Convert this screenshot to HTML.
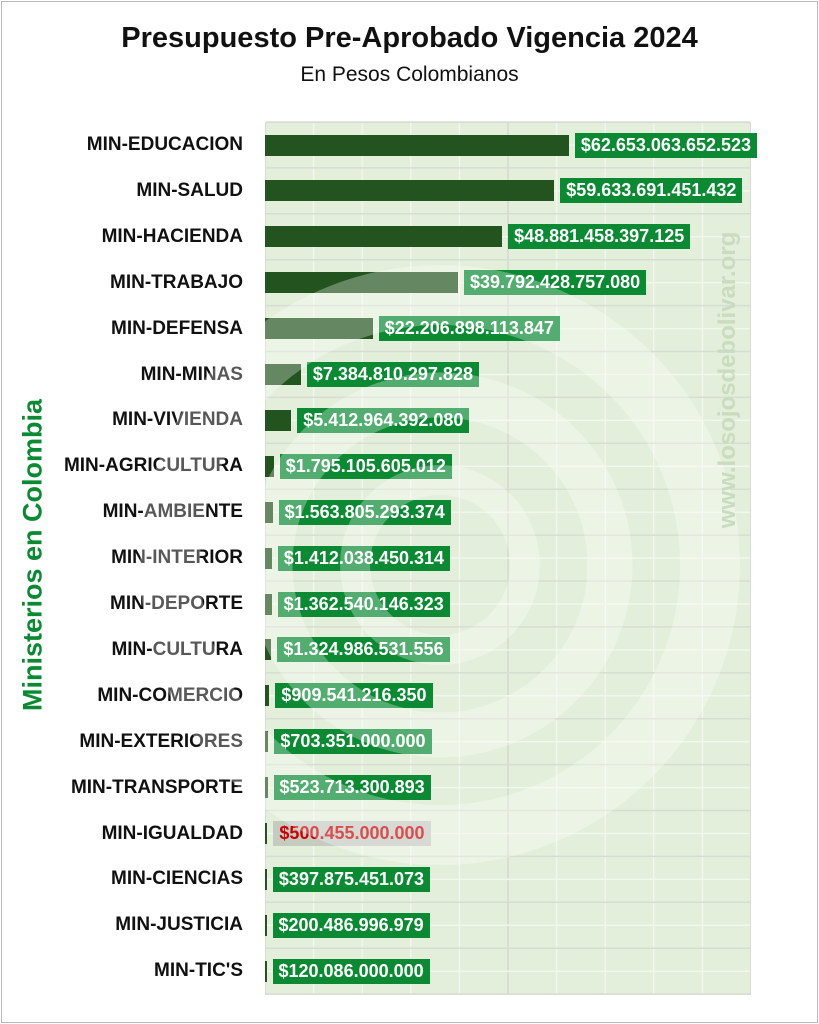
<!DOCTYPE html>
<html><head><meta charset="utf-8"><style>
*{margin:0;padding:0;box-sizing:border-box}
body{width:819px;height:1024px;background:#fff;position:relative;overflow:hidden;font-family:"Liberation Sans",sans-serif}
.frame{position:absolute;left:1px;top:1px;width:817px;height:1022px;border:1px solid #bbb}
h1{position:absolute;top:22px;left:0;width:819px;text-align:center;font-size:29px;font-weight:bold;color:#111}
.sub{position:absolute;top:63px;left:0;width:819px;text-align:center;font-size:21px;color:#111}
.panel{position:absolute;left:265px;top:122px;width:486px;height:873px;background:#e3efda;border:1px solid #d6dcd2}
.lab{position:absolute;right:576px;font-size:19px;font-weight:bold;color:#111;white-space:nowrap;height:24px;line-height:24px}
.bar{position:absolute;left:265px;height:21px;background:#23531f}
.val{position:absolute;height:25px;line-height:25px;padding:0 6px;background:#0b8a33;color:#fff;font-weight:bold;font-size:18px;font-family:"Liberation Sans Narrow","Liberation Sans",sans-serif;white-space:nowrap}
.yt{position:absolute;left:33px;top:555px;transform:translate(-50%,-50%) rotate(-90deg);font-size:27px;font-weight:bold;color:#0b8a33;white-space:nowrap}
</style></head><body>
<div class="frame"></div>
<h1>Presupuesto Pre-Aprobado Vigencia 2024</h1>
<div class="sub">En Pesos Colombianos</div>
<div class="panel"></div>
<svg style="position:absolute;left:0;top:0" width="819" height="1024">
<g id="grid"></g>
</svg>
<div class="yt">Ministerios en Colombia</div>
<div id="c"></div>
<svg style="position:absolute;left:0;top:0;pointer-events:none" width="819" height="1024">
<g fill="none" stroke="#fff" stroke-opacity="0.3">
<circle cx="440" cy="565" r="270" stroke-width="60"/>
<circle cx="440" cy="565" r="170" stroke-width="45"/>
<circle cx="440" cy="565" r="85" stroke-width="30"/>
</g>
<text x="735" y="380" transform="rotate(-90 735 380)" text-anchor="middle" font-family="Liberation Sans" font-weight="bold" font-size="24" fill="#c9dcc0">www.losojosdebolivar.org</text>
</svg>
<script>
var names=["MIN-EDUCACION","MIN-SALUD","MIN-HACIENDA","MIN-TRABAJO","MIN-DEFENSA","MIN-MINAS","MIN-VIVIENDA","MIN-AGRICULTURA","MIN-AMBIENTE","MIN-INTERIOR","MIN-DEPORTE","MIN-CULTURA","MIN-COMERCIO","MIN-EXTERIORES","MIN-TRANSPORTE","MIN-IGUALDAD","MIN-CIENCIAS","MIN-JUSTICIA","MIN-TIC'S"];
var vals=["62.653.063.652.523","59.633.691.451.432","48.881.458.397.125","39.792.428.757.080","22.206.898.113.847","7.384.810.297.828","5.412.964.392.080","1.795.105.605.012","1.563.805.293.374","1.412.038.450.314","1.362.540.146.323","1.324.986.531.556","909.541.216.350","703.351.000.000","523.713.300.893","500.455.000.000","397.875.451.073","200.486.996.979","120.086.000.000"];
var g='',h='';
for(var k=1;k<10;k++){var x=265+k*48.6;g+='<line x1="'+x+'" y1="123" x2="'+x+'" y2="994" stroke="'+(k==5?'#d4d8cf':'#f2f6ee')+'" stroke-width="1.5"/>';}
for(var i=0;i<=19;i++){var y=122+i*45.9;g+='<line x1="266" y1="'+y+'" x2="750" y2="'+y+'" stroke="#d8ddd3" stroke-width="1.5"/>';if(i<19)g+='<line x1="266" y1="'+(y+23)+'" x2="750" y2="'+(y+23)+'" stroke="#f2f6ee" stroke-width="1.5"/>';}
document.getElementById('grid').innerHTML=g;
for(var i=0;i<19;i++){
 var cy=145+i*45.9;
 var v=parseFloat(vals[i].replace(/\./g,''))/1e12;
 var w=Math.max(v*4.85,1.5);
 h+='<div class="lab" style="top:'+(cy-12)+'px">'+names[i]+'</div>';
 h+='<div class="bar" style="top:'+(cy-10.5)+'px;width:'+w+'px"></div>';
 var st=(i==15)?'background:#c6cbc2;color:#c00;':'';
 h+='<div class="val" style="top:'+(cy-12.5)+'px;left:'+(265+w+6)+'px;'+st+'">$'+vals[i]+'</div>';
}
document.getElementById('c').innerHTML=h;
</script>
</body></html>
